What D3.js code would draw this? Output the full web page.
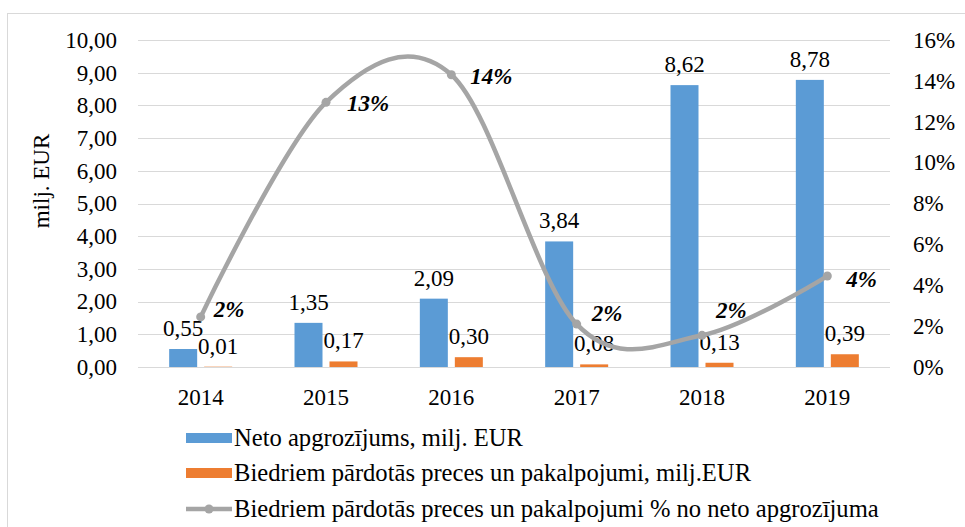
<!doctype html>
<html lang="lv">
  <head>
    <meta charset="utf-8">
    <title>Neto apgrozījums</title>
    <style>
      body{margin:0;background:#fff;}
      svg text{font-family:"Liberation Serif","Times New Roman",serif;fill:#000;}
    </style>
  </head>
  <body>
    <div class="holder"></div>
    <script src="https://cdn.jsdelivr.net/npm/d3@7"></script>
    <script>

      // chart data
      var years  = ["2014", "2015", "2016", "2017", "2018", "2019"];
      var neto   = [0.55, 1.35, 2.09, 3.84, 8.62, 8.78];   // milj. EUR
      var biedr  = [0.01, 0.17, 0.30, 0.08, 0.13, 0.39];   // milj. EUR
      var pct    = [2.45, 12.95, 14.3, 2.1, 1.55, 4.45];   // % no neto
      var leftTicks  = [0, 1, 2, 3, 4, 5, 6, 7, 8, 9, 10];
      var rightTicks = [0, 2, 4, 6, 8, 10, 12, 14, 16];
      var legendNames = [
        "Neto apgrozījums, milj. EUR",
        "Biedriem pārdotās preces un pakalpojumi, milj.EUR",
        "Biedriem pārdotās preces un pakalpojumi % no neto apgrozījuma"
      ];

      // label nudges for the % labels (dx, dy from the marker)
      var pctLabelShift = [[13,-8],[21,1],[19,1],[15,-11],[14,-25],[19,3]];

      var W = 965, H = 527,
          plotL = 138, plotR = 890, plotT = 40, plotB = 367,
          blue = "#5b9bd5", orange = "#ed7d31", grey = "#a5a5a5",
          fs = 23;

      var svg = d3.select(".holder").append("svg")
          .attr("width", W).attr("height", H);

      // chart border
      svg.append("rect")
          .attr("x", 7.5).attr("y", 13.5)
          .attr("width", W).attr("height", H)
          .attr("fill", "none").attr("stroke", "#d9d9d9");

      var x = d3.scaleBand().domain(years).range([plotL, plotR]);
      var x1 = d3.scaleBand().domain(["neto", "biedr"]).range([-31.5, 31.5]).paddingInner(0.2);
      var y = d3.scaleLinear().domain([0, 10]).range([plotB, plotT]);
      var y2 = d3.scaleLinear().domain([0, 16]).range([plotB, plotT]);

      var comma = function(v){ return d3.format(".2f")(v).replace(".", ","); };

      // gridlines
      svg.append("g").selectAll("line")
          .data(leftTicks).enter().append("line")
          .attr("x1", plotL).attr("x2", plotR)
          .attr("y1", function(d){ return Math.round(y(d)) + 0.5; })
          .attr("y2", function(d){ return Math.round(y(d)) + 0.5; })
          .attr("stroke", "#d9d9d9").attr("stroke-width", 1);

      // left axis
      svg.append("g").selectAll("text")
          .data(leftTicks).enter().append("text")
          .attr("x", 117).attr("y", function(d){ return y(d); })
          .attr("dy", "0.34em")
          .attr("text-anchor", "end")
          .style("font-size", fs + "px")
          .text(comma);

      // right axis
      svg.append("g").selectAll("text")
          .data(rightTicks).enter().append("text")
          .attr("x", 913).attr("y", function(d){ return y2(d); })
          .attr("dy", "0.34em")
          .style("font-size", fs + "px")
          .text(function(d){ return d + "%"; });

      // years
      svg.append("g").selectAll("text")
          .data(years).enter().append("text")
          .attr("x", function(d){ return x(d) + x.bandwidth() / 2; })
          .attr("y", 405)
          .attr("text-anchor", "middle")
          .style("font-size", fs + "px")
          .text(function(d){ return d; });

      // axis title
      svg.append("text")
          .attr("transform", "translate(49,181) rotate(-90)")
          .attr("text-anchor", "middle")
          .style("font-size", fs + "px")
          .text("milj. EUR");

      // bars
      var series = [
        {key: "neto", values: neto, color: blue},
        {key: "biedr", values: biedr, color: orange}
      ];

      series.forEach(function(s){
        var g = svg.append("g");
        g.selectAll("rect")
          .data(s.values).enter().append("rect")
          .attr("x", function(d, i){ return x(years[i]) + x.bandwidth() / 2 + x1(s.key); })
          .attr("y", function(d){ return y(d); })
          .attr("width", x1.bandwidth())
          .attr("height", function(d){ return y(0) - y(d); })
          .attr("fill", s.color);
        g.selectAll("text")
          .data(s.values).enter().append("text")
          .attr("x", function(d, i){ return x(years[i]) + x.bandwidth() / 2 + x1(s.key) + x1.bandwidth() / 2; })
          .attr("y", function(d){ return y(d) - 13; })
          .attr("text-anchor", "middle")
          .style("font-size", fs + "px")
          .text(comma);
      });

      // line on the right axis
      var cx = function(d, i){ return x(years[i]) + x.bandwidth() / 2; };

      var line = d3.line()
          .x(cx)
          .y(function(d){ return y2(d); })
          .curve(d3.curveCardinal);

      svg.append("path")
          .datum(pct)
          .attr("d", line)
          .attr("fill", "none")
          .attr("stroke", grey)
          .attr("stroke-width", 4.5)
          .attr("stroke-linecap", "round");

      svg.append("g").selectAll("circle")
          .data(pct).enter().append("circle")
          .attr("cx", cx)
          .attr("cy", function(d){ return y2(d); })
          .attr("r", 4.5)
          .attr("fill", grey);

      svg.append("g").selectAll("text")
          .data(pct).enter().append("text")
          .attr("x", function(d, i){ return cx(d, i) + pctLabelShift[i][0]; })
          .attr("y", function(d, i){ return y2(d) + pctLabelShift[i][1]; })
          .attr("dy", "0.34em")
          .style("font-size", fs + "px")
          .style("font-weight", "bold")
          .style("font-style", "italic")
          .text(function(d){ return Math.round(d) + "%"; });

      // legend
      var legend = svg.append("g");
      var rows = [438, 473, 509];

      legendNames.forEach(function(name, i){
        var ly = rows[i];
        if (i < 2) {
          legend.append("rect")
            .attr("x", 186).attr("y", ly - 5)
            .attr("width", 46).attr("height", 10)
            .attr("fill", i === 0 ? blue : orange);
        } else {
          legend.append("line")
            .attr("x1", 186).attr("x2", 232)
            .attr("y1", ly).attr("y2", ly)
            .attr("stroke", grey).attr("stroke-width", 4.5);
          legend.append("circle")
            .attr("cx", 209).attr("cy", ly).attr("r", 4.5)
            .attr("fill", grey);
        }
        legend.append("text")
          .attr("x", 234).attr("y", ly)
          .attr("dy", "0.34em")
          .style("font-size", "24.6px")
          .text(name);
      });

    </script>
  </body>
</html>
